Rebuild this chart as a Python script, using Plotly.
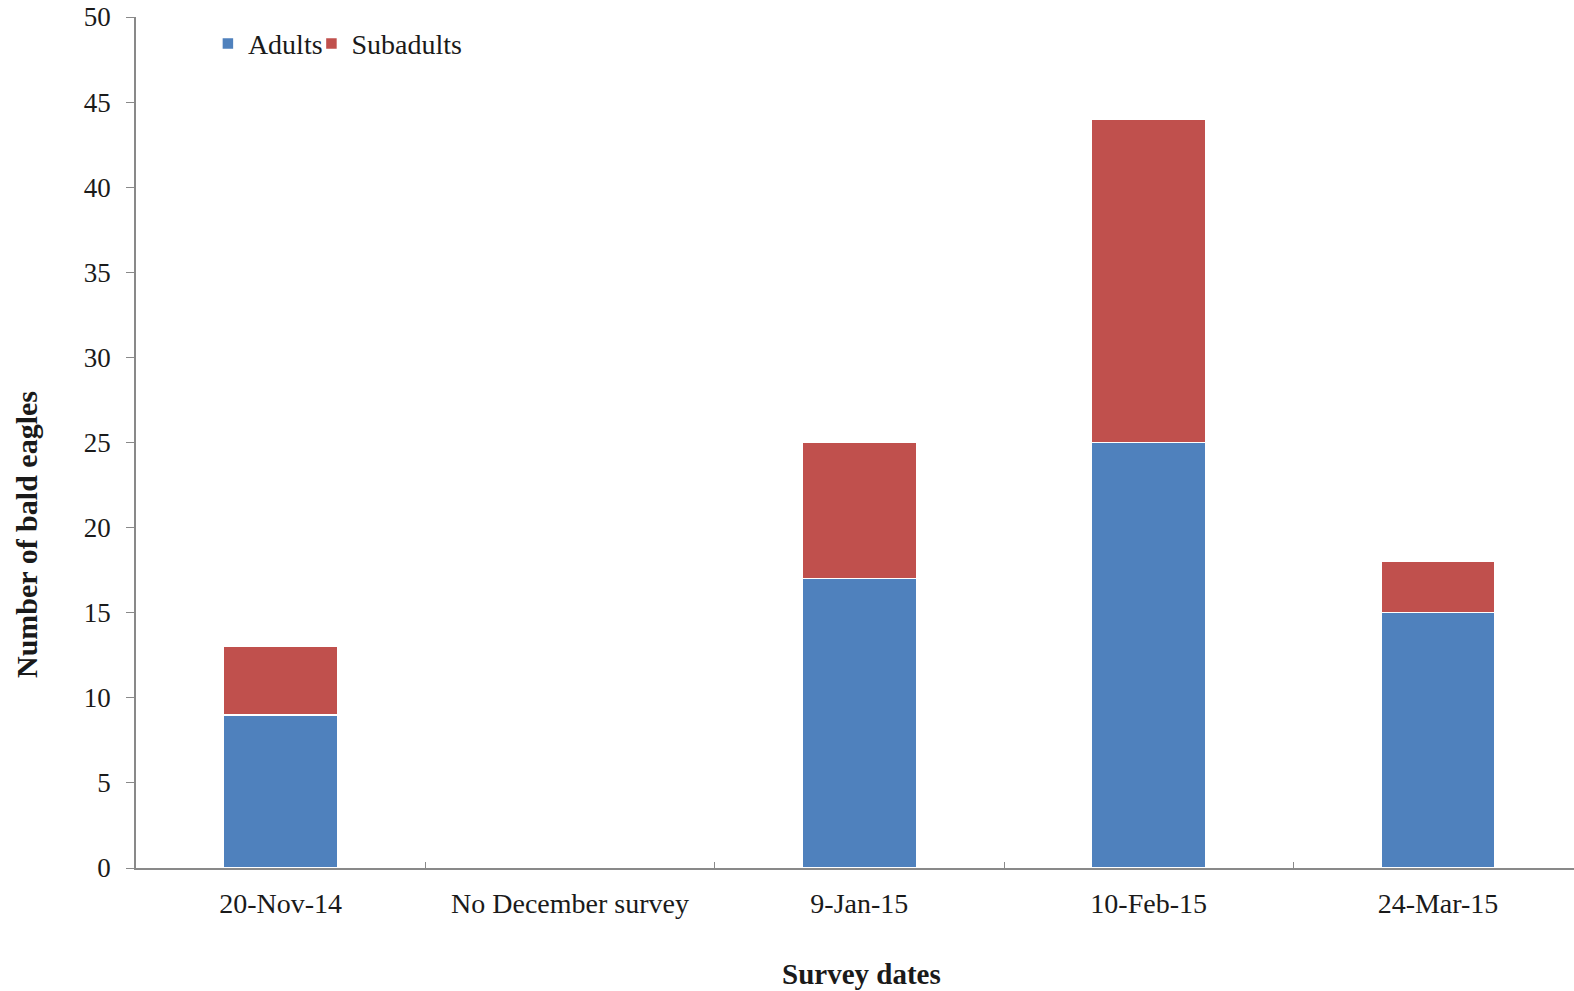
import plotly.graph_objects as go

categories = ["20-Nov-14", "No December survey", "9-Jan-15", "10-Feb-15", "24-Mar-15"]
adults = [9, 0, 17, 25, 15]
subadults = [4, 0, 8, 19, 3]
y_ticks = list(range(0, 51, 5))

FONT = "Liberation Serif"
AX = "#898989"

fig = go.Figure()
fig.add_trace(go.Bar(name="Adults", x=categories, y=adults, legend="legend",
                     marker=dict(color="#4F81BD", line=dict(color="white", width=1.5))))
fig.add_trace(go.Bar(name="Subadults", x=categories, y=subadults, legend="legend2",
                     marker=dict(color="#C0504D", line=dict(color="white", width=1.5))))

leg_common = dict(orientation="h", y=0.998, xanchor="left", yanchor="top",
                  font=dict(size=28), bgcolor="rgba(0,0,0,0)")

fig.update_layout(
    barmode="stack",
    bargap=0.605,
    width=1574, height=991,
    margin=dict(l=136, r=0, t=17, b=123),
    plot_bgcolor="white", paper_bgcolor="white",
    font=dict(family=FONT, size=27, color="#1a1a1a"),
    legend=dict(x=0.050, **leg_common),
    legend2=dict(x=0.122, **leg_common),
    showlegend=True,
    annotations=[
        dict(text="<b>Number of bald eagles</b>", textangle=-90,
             xref="paper", yref="paper", x=-0.0758, y=0.3925,
             xanchor="center", yanchor="middle", showarrow=False,
             font=dict(size=30)),
        dict(text="<b>Survey dates</b>",
             xref="paper", yref="paper", x=0.5045, y=-0.1245,
             xanchor="center", yanchor="middle", showarrow=False,
             font=dict(size=29)),
    ],
)
fig.update_xaxes(
    range=[-0.5, 4.47],
    showline=True, linecolor=AX, linewidth=1.5,
    ticks="inside", tickson="boundaries", ticklen=6, tickcolor=AX, tickwidth=1,
    showgrid=False, ticklabelstandoff=10,
    tickfont=dict(size=28),
)
fig.update_yaxes(
    range=[0, 50], tickvals=y_ticks,
    showline=True, linecolor=AX, linewidth=1.5,
    ticks="outside", ticklen=8, tickcolor=AX, tickwidth=1,
    showgrid=False, zeroline=False, ticklabelstandoff=10,
    tickfont=dict(size=27),
)

fig.write_html("out.html")
